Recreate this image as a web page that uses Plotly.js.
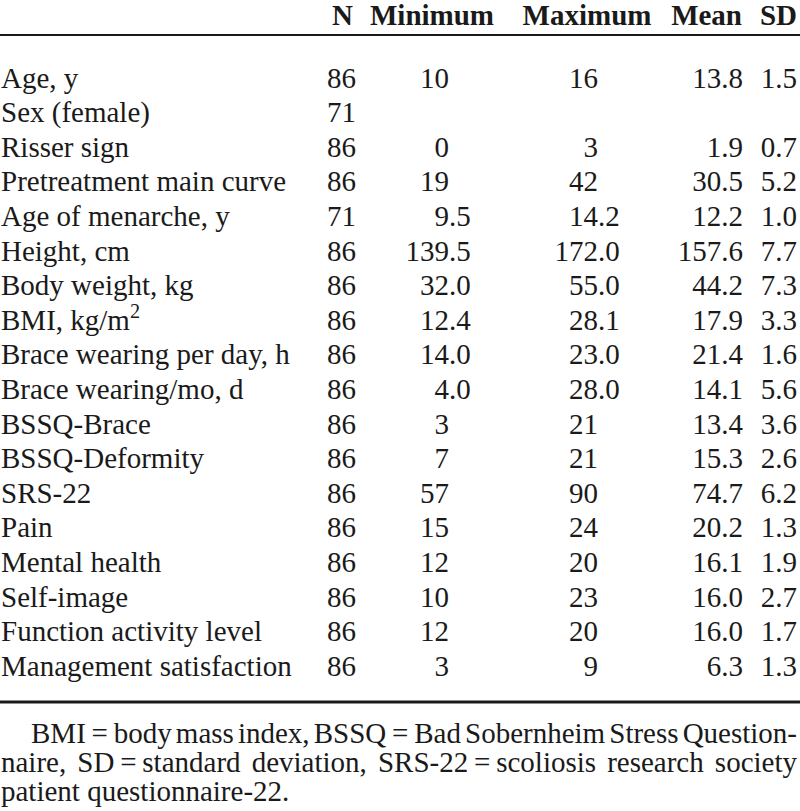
<!DOCTYPE html>
<html>
<head>
<meta charset="utf-8">
<script src="https://cdn.plot.ly/plotly-3.0.1.min.js"></script>
<style>html,body{margin:0;padding:0;background:#fff;}#chart{width:800px;height:811px;}</style>
</head>
<body>
<div id="chart"></div>
<script>
// ---- data ----
const headers = ["N", "Minimum", "Maximum", "Mean", "SD"];
const labels = ["Age, y","Sex (female)","Risser sign","Pretreatment main curve","Age of menarche, y","Height, cm","Body weight, kg","BMI, kg/m<sup>2</sup>","Brace wearing per day, h","Brace wearing/mo, d","BSSQ-Brace","BSSQ-Deformity","SRS-22","Pain","Mental health","Self-image","Function activity level","Management satisfaction"];
const nVals = ["86","71","86","86","71","86","86","86","86","86","86","86","86","86","86","86","86","86"];
const minVals = ["10","","0","19","9.5","139.5","32.0","12.4","14.0","4.0","3","7","57","15","12","10","12","3"];
const maxVals = ["16","","3","42","14.2","172.0","55.0","28.1","23.0","28.0","21","21","90","24","20","23","20","9"];
const meanVals = ["13.8","","1.9","30.5","12.2","157.6","44.2","17.9","21.4","14.1","13.4","15.3","74.7","20.2","16.1","16.0","16.0","6.3"];
const sdVals = ["1.5","","0.7","5.2","1.0","7.7","7.3","3.3","1.6","5.6","3.6","2.6","6.2","1.3","1.9","2.7","1.7","1.3"];
const footLine1 = ["BMI\u2009=\u2009body","mass","index,","BSSQ\u2009=\u2009Bad","Sobernheim","Stress","Question-"];
const footLine2 = ["naire,","SD\u2009=\u2009standard","deviation,","SRS-22\u2009=\u2009scoliosis","research","society"];
const footLine3 = "patient questionnaire-22.";

// ---- layout constants (axis units: x = px, y = rows) ----
const FONT = "Liberation Serif, Times New Roman, serif";
const FS = 29;
const COLOR = "#1a1a1a";
const xLabel = 1, xN = 356, xMin = 449, xMax = 598, xMean = 743, xSD = 797;
const hdrX = {N: 353, Minimum: 432, Maximum: 587, Mean: 742, SD: 797};
const yHeader = -1.82, yTopLine = -1.312, yBottomLine = 17.965;
const yFoot = [18.94, 19.78, 20.617];
const rows = labels.map((_, i) => i);

const font = {family: FONT, size: FS, color: COLOR};
const boldFont = {family: FONT, size: FS, color: COLOR, weight: "bold"};
function textTrace(xs, ys, texts, pos, f) {
  const keep = texts.map((t, i) => (t !== "" && t != null) ? i : -1).filter(i => i >= 0);
  return {type: "scatter", mode: "text", x: keep.map(i => xs[i]), y: keep.map(i => ys[i]),
          text: keep.map(i => texts[i]), textposition: pos,
          textfont: f || font, hoverinfo: "skip", showlegend: false, cliponaxis: false};
}
const rep = (v) => rows.map(() => v);
const intPart = (s) => s.split(".")[0];
const fracPart = (s) => s.indexOf(".") >= 0 ? "." + s.split(".")[1] : "";

const traces = [];
// header
traces.push(textTrace([hdrX.N, hdrX.Mean, hdrX.SD], [yHeader, yHeader, yHeader], ["<b>" + headers[0] + "</b>", "<b>" + headers[3] + "</b>", "<b>" + headers[4] + "</b>"], "middle left", boldFont));
traces.push(textTrace([hdrX.Minimum, hdrX.Maximum], [yHeader, yHeader], ["<b>" + headers[1] + "</b>", "<b>" + headers[2] + "</b>"], "middle center", boldFont));
// body
traces.push(textTrace(rep(xLabel), rows, labels, "middle right"));
traces.push(textTrace(rep(xN), rows, nVals, "middle left"));
traces.push(textTrace(rep(xMin), rows, minVals.map(intPart), "middle left"));
traces.push(textTrace(rep(xMin), rows, minVals.map(fracPart), "middle right"));
traces.push(textTrace(rep(xMax), rows, maxVals.map(intPart), "middle left"));
traces.push(textTrace(rep(xMax), rows, maxVals.map(fracPart), "middle right"));
traces.push(textTrace(rep(xMean), rows, meanVals, "middle left"));
traces.push(textTrace(rep(xSD), rows, sdVals, "middle left"));

// footnote: justify lines by measuring word widths
const ctx = document.createElement("canvas").getContext("2d");
ctx.font = FS + "px 'Liberation Serif'";
function justify(words, x0, x1) {
  const widths = words.map(w => ctx.measureText(w).width);
  const total = widths.reduce((a, b) => a + b, 0);
  const gap = (x1 - x0 - total) / (words.length - 1);
  const xs = []; let x = x0;
  widths.forEach(w => { xs.push(x); x += w + gap; });
  return xs;
}
const f1x = justify(footLine1, 31, 797);
const f2x = justify(footLine2, 1, 797);
traces.push(textTrace(f1x, f1x.map(() => yFoot[0]), footLine1, "middle right"));
traces.push(textTrace(f2x, f2x.map(() => yFoot[1]), footLine2, "middle right"));
traces.push(textTrace([1], [yFoot[2]], [footLine3], "middle right"));

const layout = {
  width: 800, height: 811,
  margin: {l: 0, r: 0, t: 0, b: 0, pad: 0},
  paper_bgcolor: "#ffffff", plot_bgcolor: "#ffffff",
  xaxis: {range: [0, 800], visible: false, fixedrange: true},
  yaxis: {range: [21.116, -2.324], visible: false, fixedrange: true},
  showlegend: false,
  shapes: [
    {type: "line", xref: "paper", x0: 0, x1: 1, yref: "y", y0: yTopLine, y1: yTopLine, line: {color: COLOR, width: 2}},
    {type: "line", xref: "paper", x0: 0, x1: 1, yref: "y", y0: yBottomLine, y1: yBottomLine, line: {color: COLOR, width: 3}}
  ]
};
Plotly.newPlot("chart", traces, layout, {staticPlot: true, displayModeBar: false});
</script>
</body>
</html>
